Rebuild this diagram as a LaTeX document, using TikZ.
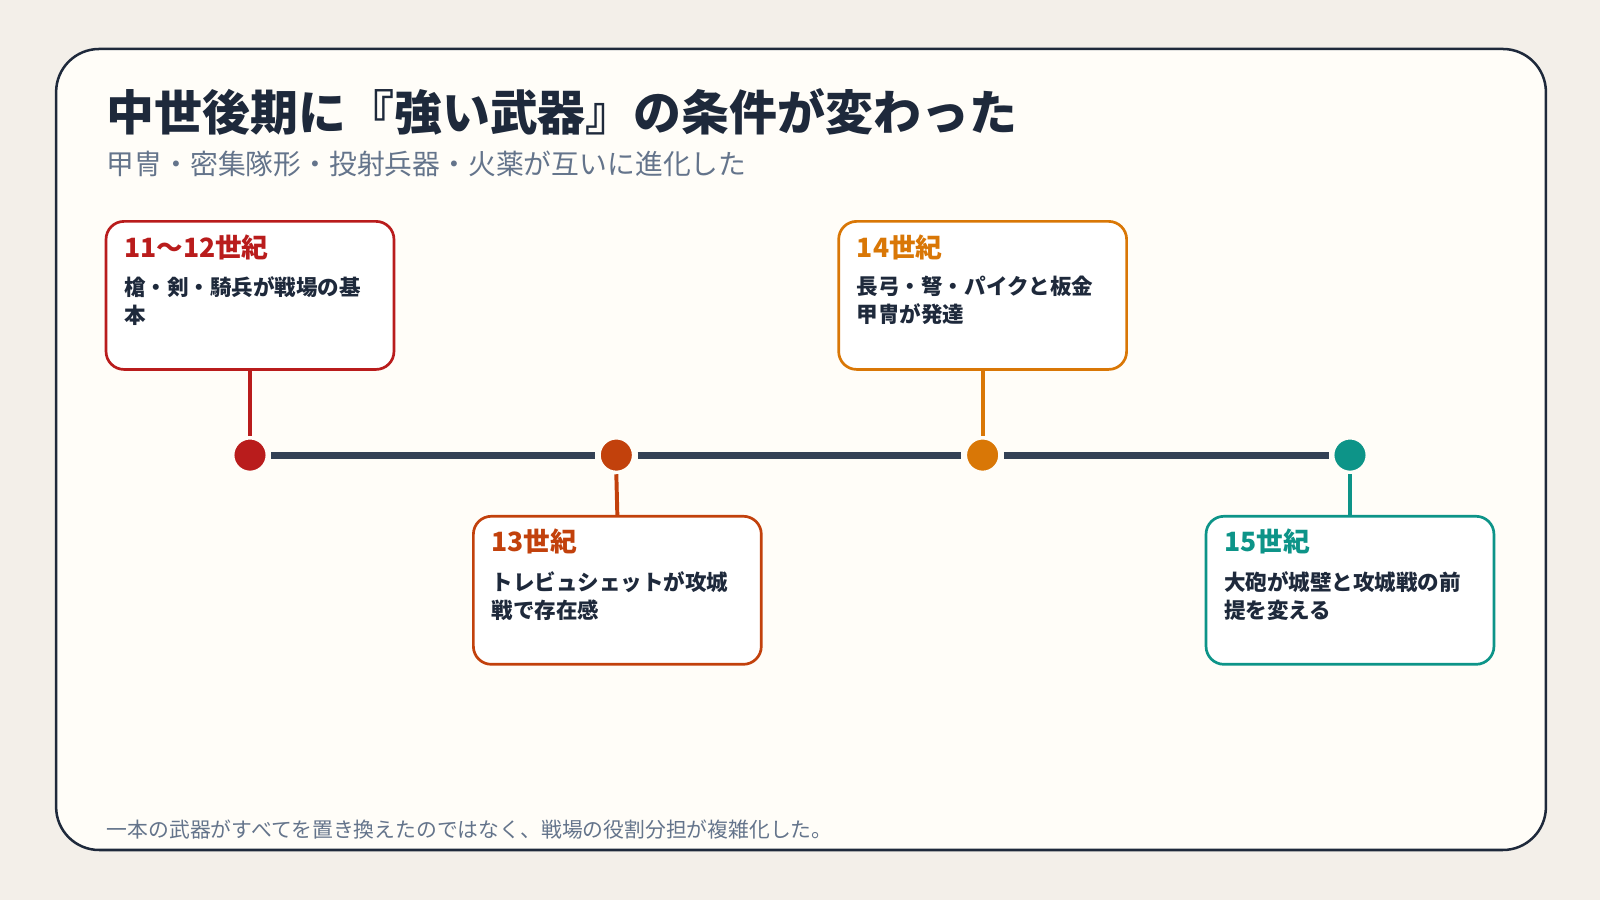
\documentclass[tikz,border=0pt]{standalone}
\usepackage{fontspec}
\setmainfont{Noto Sans CJK JP}
\usetikzlibrary{positioning}
\definecolor{bgpage}{HTML}{F3EFE9}
\definecolor{bgcard}{HTML}{FFFDF8}
\definecolor{ink}{HTML}{1E293B}
\definecolor{muted}{HTML}{64748B}
\definecolor{axis}{HTML}{334155}
\definecolor{cA}{HTML}{B91C1C}
\definecolor{cB}{HTML}{C2410C}
\definecolor{cC}{HTML}{D97706}
\definecolor{cD}{HTML}{0D9488}
\tikzset{
	px/.style={x=0.01cm,y=-0.01cm},
	card/.style={draw=#1, line width=0.75pt, fill=white, rounded corners=5pt,
		minimum width=2.82cm, minimum height=1.45cm},
	dot/.style={circle, fill=#1, draw=bgcard, line width=1pt, minimum size=0.34cm, inner sep=0pt},
	stem/.style={draw=#1, line width=1.1pt},
	head/.style={text=#1, font=\fontsize{7.4}{8}\selectfont\bfseries, anchor=north west, inner sep=0pt},
	body/.style={text=ink, font=\fontsize{6}{7.8}\selectfont\bfseries, anchor=north west, inner sep=0pt,
		align=left},
}
\begin{document}
\begin{tikzpicture}[px]
	\fill[bgpage] (0,0) rectangle (1568,882);
	\useasboundingbox (0,0) rectangle (1568,882);
	\draw[ink, line width=0.7pt, fill=bgcard, rounded corners=12pt] (55,48) rectangle (1515,833);

	% headings
	\node[anchor=west, inner sep=0pt, text=ink, font=\fontsize{13.35}{15}\selectfont\bfseries] (title) at (104,110) {中世後期に『強い武器』の条件が変わった};
	\node[anchor=west, inner sep=0pt, text=muted, font=\fontsize{7.75}{9}\selectfont] (sub) at (104,161) {甲冑・密集隊形・投射兵器・火薬が互いに進化した};

	% timeline
	\node[dot=cA] (d1) at (245,446) {};
	\node[dot=cB] (d2) at (604,446) {};
	\node[dot=cC] (d3) at (963,446) {};
	\node[dot=cD] (d4) at (1323,446) {};
	\draw[axis, line width=2pt, shorten <=0.02cm, shorten >=0.02cm] (d1) -- (d2);
	\draw[axis, line width=2pt, shorten <=0.02cm, shorten >=0.02cm] (d2) -- (d3);
	\draw[axis, line width=2pt, shorten <=0.02cm, shorten >=0.02cm] (d3) -- (d4);

	% cards
	\node[card=cA] (k1) at (245,289.5) {};
	\node[card=cB] (k2) at (605,578.5) {};
	\node[card=cC] (k3) at (963,289.5) {};
	\node[card=cD] (k4) at (1323,578.5) {};
	\draw[stem=cA] (k1.south) -- (d1.north);
	\draw[stem=cB] (k2.north) -- (d2.south);
	\draw[stem=cC] (k3.south) -- (d3.north);
	\draw[stem=cD] (k4.north) -- (d4.south);

	\node[head=cA] (h1) at (121,229) {11〜12世紀};
	\node[body, below=0.15cm of h1.south west, anchor=north west] (b1) {槍・剣・騎兵が戦場の基\\本};
	\node[head=cB] (h2) at (481,518) {13世紀};
	\node[body, below=0.15cm of h2.south west, anchor=north west] (b2) {トレビュシェットが攻城\\戦で存在感};
	\node[head=cC] (h3) at (839,229) {14世紀};
	\node[body, below=0.15cm of h3.south west, anchor=north west] (b3) {長弓・弩・パイクと板金\\甲冑が発達};
	\node[head=cD] (h4) at (1199,518) {15世紀};
	\node[body, below=0.15cm of h4.south west, anchor=north west] (b4) {大砲が城壁と攻城戦の前\\提を変える};

	% footer
	\node[anchor=west, inner sep=0pt, text=muted, font=\fontsize{5.8}{7}\selectfont] (foot) at (104,813) {一本の武器がすべてを置き換えたのではなく、戦場の役割分担が複雑化した。};
\end{tikzpicture}
\end{document}
